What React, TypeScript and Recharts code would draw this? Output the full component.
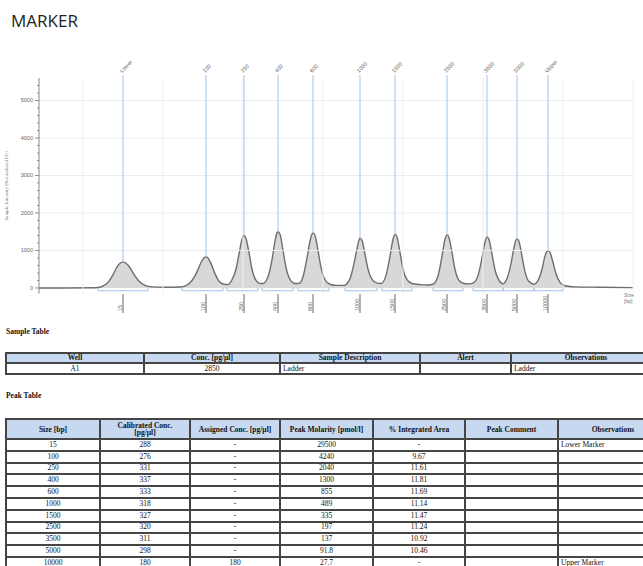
import { ComposedChart, Area, XAxis, YAxis, ReferenceLine } from 'recharts';

// electropherogram trace (migration position, intensity FU)
const traceX = [
  39, 95, 102, 108, 113, 117, 120, 123, 126, 130, 134, 139, 145, 152, 165, 180,
  186, 192, 197, 201, 204, 206, 208, 211, 215, 219, 224,
  228, 232, 236, 239, 242, 244, 246, 249, 252, 256, 260,
  263, 268, 272, 275, 277, 278, 280, 283, 286, 290, 295,
  299, 303, 307, 310, 312, 313, 315, 318, 321, 325, 330, 336,
  344, 350, 354, 357, 359, 360, 362, 365, 368, 372, 377,
  381, 386, 390, 393, 394.5, 395.5, 397, 400, 403, 407, 412, 420, 428,
  433, 438, 442, 445, 447, 449, 452, 455, 459, 464, 469,
  473, 478, 482, 485, 487, 489, 492, 495, 499, 503,
  507, 511, 514, 516, 517, 519, 522, 525, 529, 534,
  538, 542, 545, 547, 548, 550, 553, 556, 560, 565, 575, 600, 633,
];
const traceY = [
  0, 5, 40, 150, 350, 560, 660, 690, 660, 540, 360, 180, 70, 30, 20, 25,
  60, 200, 430, 680, 800, 830, 800, 650, 380, 180, 100,
  90, 220, 500, 900, 1300, 1400, 1320, 950, 500, 200, 120,
  120, 300, 750, 1250, 1470, 1500, 1430, 1000, 550, 230, 120,
  120, 300, 800, 1250, 1440, 1470, 1400, 1000, 550, 220, 100, 70,
  70, 250, 650, 1050, 1280, 1330, 1270, 900, 500, 230, 130,
  120, 330, 850, 1300, 1420, 1430, 1360, 950, 500, 220, 120, 90, 80,
  100, 320, 850, 1300, 1415, 1340, 950, 500, 200, 120, 110,
  130, 330, 800, 1220, 1360, 1290, 900, 480, 200, 110,
  250, 650, 1080, 1280, 1310, 1240, 850, 430, 170, 100,
  200, 500, 850, 980, 1000, 950, 680, 380, 150, 60, 30, 20, 10,
];

const markerNames = ['Lower', '100', '250', '400', '600', '1000', '1500', '2500', '3500', '5000', 'Upper'];
const peakLabels = ['15', '100', '250', '400', '600', '1000', '1500', '2500', '3500', '5000', '10000'];
const peakPos = [123, 206, 244, 278, 313, 360, 395, 447, 487, 517, 548];
const peakHeight = [690, 830, 1400, 1500, 1470, 1330, 1430, 1415, 1360, 1310, 1000];
const rangeStart = [98, 182, 227, 262, 298, 345, 382, 433, 473, 503, 534];
const rangeEnd = [148, 223, 258, 293, 329, 377, 412, 463, 503, 534, 563];

const yTicks = [0, 200, 400, 600, 800, 1000, 1200, 1400, 1600, 1800, 2000, 2200, 2400, 2600, 2800, 3000,
  3200, 3400, 3600, 3800, 4000, 4200, 4400, 4600, 4800, 5000, 5200, 5400];
const gridY = [1000, 2000, 3000, 4000, 5000];
const gridX = [83, 163, 243, 323, 403, 483, 563, 633];

// tables
const sampleHeaders = ['Well', 'Conc. [pg/µl]', 'Sample Description', 'Alert', 'Observations'];
const sampleRow = ['A1', '2850', 'Ladder', '', 'Ladder'];

const peakHeaders = ['Size [bp]', 'Calibrated Conc.\n[pg/µl]', 'Assigned Conc. [pg/µl]', 'Peak Molarity [pmol/l]', '% Integrated Area', 'Peak Comment', 'Observations'];
const sizes = ['15', '100', '250', '400', '600', '1000', '1500', '2500', '3500', '5000', '10000'];
const calibrated = ['288', '276', '331', '337', '333', '318', '327', '320', '311', '298', '180'];
const assigned = ['-', '-', '-', '-', '-', '-', '-', '-', '-', '-', '180'];
const molarity = ['29500', '4240', '2040', '1300', '855', '489', '335', '197', '137', '91.8', '27.7'];
const integrated = ['-', '9.67', '11.61', '11.81', '11.69', '11.14', '11.47', '11.24', '10.92', '10.46', '-'];
const comments = ['', '', '', '', '', '', '', '', '', '', ''];
const observations = ['Lower Marker', '', '', '', '', '', '', '', '', '', 'Upper Marker'];

const data = traceX.map((x, i) => ({ x, y: traceY[i] }));

const BLUE = '#9fc3e8';

function YTick(props: any) {
  const { x, y, payload } = props;
  const major = payload.value % 1000 === 0;
  return (
    <g>
      <line x1={x - (major ? 4 : 2)} x2={x} y1={y} y2={y} stroke="#777" strokeWidth={0.8} />
      {major && (
        <text x={x - 6} y={y} dy="0.35em" textAnchor="end" fontSize={5.5} fill="#666" fontFamily="Liberation Sans">
          {payload.value}
        </text>
      )}
    </g>
  );
}

function BottomTick(props: any) {
  const { x, payload } = props;
  const i = peakPos.indexOf(payload.value);
  return (
    <g>
      <line x1={x} x2={x} y1={294} y2={313} stroke="#555" strokeWidth={0.9} />
      <text transform={`translate(${x - 1.2},311) rotate(-90)`} fontSize={5.5} fill="#666" fontFamily="Liberation Sans">
        {peakLabels[i]}
      </text>
    </g>
  );
}

function TopTick(props: any) {
  const { x, payload } = props;
  const i = peakPos.indexOf(payload.value);
  return (
    <text transform={`translate(${x - 1},73) rotate(-45)`} fontSize={5.5} fill="#555" fontFamily="Liberation Sans">
      {markerNames[i]}
    </text>
  );
}

const cell = {
  border: '2px solid #454545',
  padding: '0 2px',
  overflow: 'hidden',
  whiteSpace: 'nowrap' as const,
};

export default function App() {
  return (
    <div style={{ position: 'absolute', left: 0, top: 0, width: 643, height: 566, overflow: 'hidden', background: '#fff' }}>
      <div style={{ position: 'absolute', left: 11, top: 12, fontFamily: 'Open Sans', fontSize: 17, lineHeight: '17px', color: '#222' }}>
        MARKER
      </div>

      <div style={{ position: 'absolute', left: 0, top: 0 }}>
        <ComposedChart width={643} height={330} data={data} margin={{ top: 58, right: 10, bottom: 0, left: 0 }}>
          <XAxis dataKey="x" type="number" domain={[39, 633]} ticks={peakPos} tick={<BottomTick />}
            axisLine={false} tickLine={false} tickSize={0} tickMargin={0} height={36.4} interval={0} />
          <XAxis xAxisId="top" orientation="top" dataKey="x" type="number" domain={[39, 633]} ticks={peakPos}
            tick={<TopTick />} axisLine={false} tickLine={false} tickSize={0} tickMargin={0} height={20} interval={0} />
          <YAxis type="number" domain={[-150, 5600]} ticks={yTicks} tick={<YTick />} width={39} interval={0}
            tickLine={false} tickSize={0} tickMargin={0} stroke="#888" allowDataOverflow
            label={{ value: 'Sample Intensity [Normalized FU]', angle: -90, position: 'insideLeft', offset: 6, fontSize: 5, fill: '#777', style: { textAnchor: 'middle' } }} />
          {gridY.map((v) => (
            <ReferenceLine key={`gy${v}`} y={v} stroke="#ececec" strokeWidth={1} />
          ))}
          {gridX.map((v) => (
            <ReferenceLine key={`gx${v}`} x={v} stroke="#f0f0f0" strokeWidth={1} />
          ))}
          {peakPos.map((p, i) => (
            <ReferenceLine key={`m${i}`} segment={[{ x: p, y: peakHeight[i] }, { x: p, y: 5680 }]}
              stroke={BLUE} strokeWidth={1} ifOverflow="visible" />
          ))}
          {rangeStart.map((s, i) => (
            <ReferenceLine key={`rb${i}`} segment={[{ x: s, y: -75 }, { x: rangeEnd[i], y: -75 }]}
              stroke={BLUE} strokeWidth={1} ifOverflow="visible" />
          ))}
          {rangeStart.map((s, i) => (
            <ReferenceLine key={`rl${i}`} segment={[{ x: s, y: -75 }, { x: s, y: 0 }]}
              stroke={BLUE} strokeWidth={1} ifOverflow="visible" />
          ))}
          {rangeEnd.map((e, i) => (
            <ReferenceLine key={`rr${i}`} segment={[{ x: e, y: -75 }, { x: e, y: 0 }]}
              stroke={BLUE} strokeWidth={1} ifOverflow="visible" />
          ))}
          <Area dataKey="y" type="monotone" stroke="#6e6e6e" strokeWidth={1.4} fill="#d8d8d8" fillOpacity={1}
            isAnimationActive={false} dot={false} activeDot={false} />
        </ComposedChart>
      </div>

      <div style={{ position: 'absolute', left: 624, top: 292, fontFamily: 'Liberation Sans', fontSize: 5, lineHeight: '6px', color: '#777' }}>
        Size<br />[bp]
      </div>

      <div style={{ position: 'absolute', left: 6, top: 327, fontFamily: 'Liberation Serif', fontWeight: 'bold', fontSize: 7.5, color: '#111' }}>
        Sample Table
      </div>
      <table style={{ position: 'absolute', left: 5, top: 352, borderCollapse: 'collapse', tableLayout: 'fixed', width: 655,
        fontFamily: 'Liberation Serif', fontSize: 7.5, lineHeight: '8px', color: '#111', border: '2px solid #2a2a2a' }}>
        <colgroup>
          {[138, 136, 140, 91, 150].map((w, i) => <col key={i} style={{ width: w }} />)}
        </colgroup>
        <tbody>
          <tr style={{ height: 10, background: '#c6d9f1' }}>
            {sampleHeaders.map((h) => <td key={h} style={{ ...cell, fontWeight: 'bold', textAlign: 'center' }}>{h}</td>)}
          </tr>
          <tr style={{ height: 11 }}>
            {sampleRow.map((v, i) => (
              <td key={i} style={{ ...cell, textAlign: i < 2 ? 'center' : 'left' }}>{v}</td>
            ))}
          </tr>
        </tbody>
      </table>

      <div style={{ position: 'absolute', left: 6, top: 391, fontFamily: 'Liberation Serif', fontWeight: 'bold', fontSize: 7.5, color: '#111' }}>
        Peak Table
      </div>
      <table style={{ position: 'absolute', left: 5, top: 418, borderCollapse: 'collapse', tableLayout: 'fixed', width: 662,
        fontFamily: 'Liberation Serif', fontSize: 7.5, lineHeight: '8px', color: '#111', border: '2px solid #2a2a2a' }}>
        <colgroup>
          {[94, 90, 90, 93, 92, 93, 110].map((w, i) => <col key={i} style={{ width: w }} />)}
        </colgroup>
        <tbody>
          <tr style={{ height: 20, background: '#c6d9f1' }}>
            {peakHeaders.map((h) => (
              <td key={h} style={{ ...cell, fontWeight: 'bold', textAlign: 'center', whiteSpace: 'pre-line', lineHeight: '7px' }}>{h}</td>
            ))}
          </tr>
          {sizes.map((s, r) => (
            <tr key={s} style={{ height: 11.8 }}>
              <td style={{ ...cell, textAlign: 'center' }}>{s}</td>
              <td style={{ ...cell, textAlign: 'center' }}>{calibrated[r]}</td>
              <td style={{ ...cell, textAlign: 'center' }}>{assigned[r]}</td>
              <td style={{ ...cell, textAlign: 'center' }}>{molarity[r]}</td>
              <td style={{ ...cell, textAlign: 'center' }}>{integrated[r]}</td>
              <td style={{ ...cell, textAlign: 'center' }}>{comments[r]}</td>
              <td style={{ ...cell, textAlign: 'left' }}>{observations[r]}</td>
            </tr>
          ))}
        </tbody>
      </table>
    </div>
  );
}
